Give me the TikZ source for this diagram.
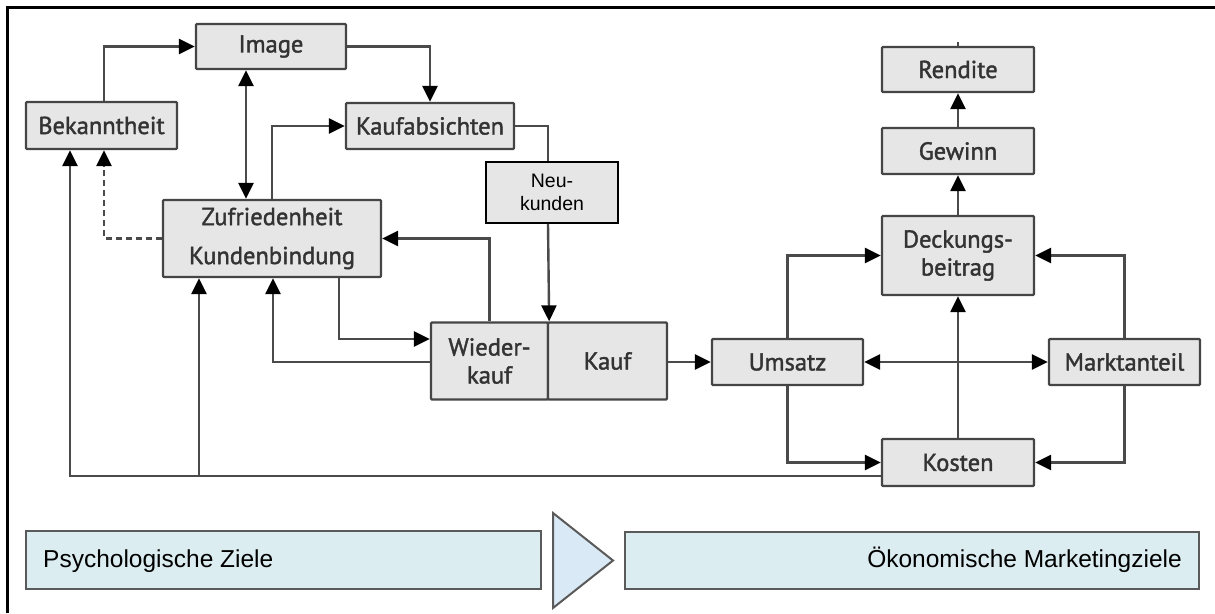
\documentclass[tikz,border=0pt]{standalone}
\usepackage{fontspec}
\usetikzlibrary{arrows.meta}
\newfontfamily\boxfont[FakeBold=1.6]{PT Sans}
\newfontfamily\plainfont{Liberation Sans}
\definecolor{boxfill}{HTML}{E6E6E6}
\definecolor{boxline}{HTML}{454545}
\definecolor{boxtext}{HTML}{333333}
\definecolor{wireline}{HTML}{4A4A4A}
\definecolor{bandfill}{HTML}{DCEDF1}
\definecolor{arrowfill}{HTML}{DAE9F6}
\definecolor{bandline}{HTML}{5A5A5A}
\tikzset{
  goal/.style={draw=boxline, line width=2.3pt, fill=boxfill, rounded corners=1pt,
    inner sep=0pt, text=boxtext, align=center,
    font=\boxfont\fontsize{24.5}{28}\selectfont},
  plainbox/.style={draw=black, line width=1.8pt, fill=boxfill, inner sep=0pt,
    text=black, align=center, font=\plainfont\fontsize{19.5}{23}\selectfont},
  band/.style={draw=bandline, line width=2.2pt, fill=bandfill, inner sep=0pt},
  bandtext/.style={inner sep=0pt, text=black, font=\plainfont\fontsize{24.5}{28}\selectfont},
  wire/.style={draw=wireline, line width=2.4pt},
  arr/.style={wire, -{Triangle[length=16pt,width=15pt,color=black]}},
  darr/.style={wire, {Triangle[length=16pt,width=15pt,color=black]}-{Triangle[length=16pt,width=15pt,color=black]}},
  dasharr/.style={arr, dash pattern=on 6pt off 4pt},
}
\begin{document}
\begin{tikzpicture}[x=1pt, y=-1pt]
\useasboundingbox (0,0) rectangle (1215,613);
% frame
\draw[line width=3pt, black] (7,613) -- (7,7) -- (1215,7);

% psychological side
\node[goal, minimum width=150pt, minimum height=45pt] (img) at (271,46.5) {Image};
\node[goal, minimum width=151pt, minimum height=47pt] (bek) at (101.5,125.5) {Bekanntheit};
\node[goal, minimum width=168pt, minimum height=46pt] (kab) at (430,126) {Kaufabsichten};
\node[goal, minimum width=218pt, minimum height=77pt,
      font=\boxfont\fontsize{24.5}{39}\selectfont] (zuf) at (272,238.5)
      {Zufriedenheit\\Kundenbindung};
\node[plainbox, minimum width=132pt, minimum height=61pt] (neu) at (552,192.5) {Neu-\\kunden};
\node[goal, minimum width=117pt, minimum height=77pt] (wk) at (489.5,361) {Wieder-\\kauf};
\node[goal, minimum width=119pt, minimum height=77pt] (kf) at (607.5,361) {Kauf};

% economic side
\node[goal, minimum width=151pt, minimum height=46pt] (ums) at (787.5,362) {Umsatz};
\node[goal, minimum width=151pt, minimum height=46pt] (mkt) at (1124.5,362) {Marktanteil};
\node[goal, minimum width=152pt, minimum height=47pt] (kos) at (958,462.5) {Kosten};
\node[goal, minimum width=152pt, minimum height=79pt] (db) at (958,255.5) {Deckungs-\\beitrag};
\node[goal, minimum width=152pt, minimum height=46pt] (gew) at (958,151) {Gewinn};
\node[goal, minimum width=152pt, minimum height=45pt] (ren) at (958,69.5) {Rendite};

% guide lines for the orthogonal connectors
\coordinate (xa) at (70,0);
\coordinate (xb) at (104,0);
\coordinate (xc) at (199,0);
\coordinate (xd) at (246,0);
\coordinate (xe) at (273,0);
\coordinate (xf) at (339,0);
\coordinate (xg) at (548,0);
\coordinate (ya) at (0,339);
\coordinate (yb) at (0,362);
\coordinate (yc) at (0,476);

% connectors, psychological side
\draw[arr] (bek.north -| xb) |- (img.west);
\draw[arr] (img.east) -| (kab.north);
\draw[darr] (img.south -| xd) -- (zuf.north -| xd);
\draw[arr] (zuf.north) |- (kab.west);
\draw[dasharr] (zuf.west) -| (bek.south -| xb);
\draw[arr] (zuf.south -| xf) |- (wk.west |- ya);
\draw[arr] (wk.west |- yb) -| (zuf.south -| xe);
\draw[arr] (wk.north) |- (zuf.east);
\draw[wire] (kab.east) -| (neu.north -| xg);
\draw[arr] (neu.south -| xg) -- (wk.north east);

% connectors, economic side
\draw[arr] (kf.east |- ums.west) -- (ums.west);
\draw[darr] (ums.east) -- (mkt.west);
\draw[arr] (ums.north) |- (db.west);
\draw[arr] (mkt.north) |- (db.east);
\draw[arr] (ums.south) |- (kos.west);
\draw[arr] (mkt.south) |- (kos.east);
\draw[arr] (kos.north) -- (db.south);
\draw[arr] (db.north) -- (gew.south);
\draw[arr] (gew.north) -- (ren.south);
\draw[wire, line width=1.2pt] (ren.north) -- ++(0,-4);

% feedback from costs back to the psychological goals
\draw[arr] (kos.west |- yc) -| (bek.south -| xa);
\draw[arr] (xc |- yc) -- (zuf.south -| xc);

% bottom bands
\node[band, minimum width=515pt, minimum height=58pt] (psy) at (283.5,560) {};
\node[band, minimum width=574pt, minimum height=57pt] (oek) at (912,560.5) {};
\draw[draw=bandline, line width=2pt, fill=arrowfill, line join=miter]
  (553,513) -- (613,560.5) -- (553,608) -- cycle;
\node[bandtext, anchor=base west] (psyt) at (43,567) {Psychologische Ziele};
\node[bandtext, anchor=base east] (oekt) at (1182,567) {Ökonomische Marketingziele};
\end{tikzpicture}
\end{document}
